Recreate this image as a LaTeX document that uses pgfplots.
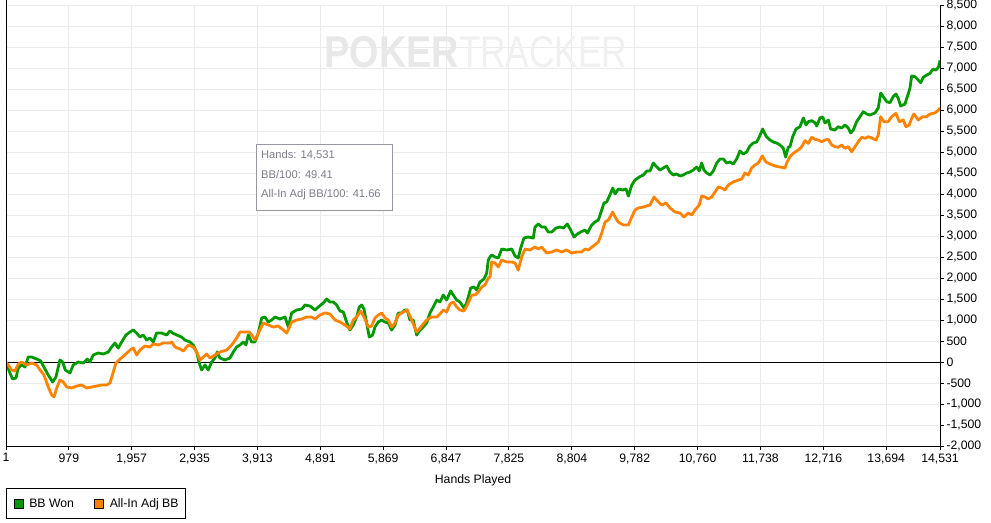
\documentclass[border=0pt]{standalone}
\usepackage{pgfplots}
\pgfplotsset{compat=1.18}
\usepackage{graphicx}
\usepackage{fontspec}
\setmainfont{Liberation Sans}
\definecolor{bbgreen}{RGB}{0,153,0}
\definecolor{bborange}{RGB}{255,130,0}
\definecolor{gridgray}{RGB}{235,235,235}
\definecolor{tipgray}{RGB}{125,125,138}
\begin{document}
\begin{tikzpicture}
\begin{axis}[name=ax, scale only axis, width=934bp, height=441bp,
  xmin=1, xmax=14531, ymin=-2000, ymax=8500,
  scaled x ticks=false, scaled y ticks=false,
  axis x line*=bottom, axis y line*=right,
  axis line style={black, line width=1bp},
  tick style={black, line width=1bp},
  tick align=outside, major tick length=4bp,
  grid=major, major grid style={gridgray, line width=1bp},
  xtick={1,979,1957,2935,3913,4891,5869,6847,7825,8804,9782,10760,11738,12716,13694,14531},
  xticklabels={1,979,{1,957},{2,935},{3,913},{4,891},{5,869},{6,847},{7,825},{8,804},{9,782},{10,760},{11,738},{12,716},{13,694},{14,531}},
  ytick={-2000,-1500,...,8500},
  yticklabels={{-2,000},{-1,500},{-1,000},-500,0,500,{1,000},{1,500},{2,000},{2,500},{3,000},{3,500},{4,000},{4,500},{5,000},{5,500},{6,000},{6,500},{7,000},{7,500},{8,000},{8,500}},
  tick label style={font=\fontsize{12.3}{14}\selectfont},
  yticklabel style={xshift=-1bp},
  xticklabel style={yshift=0bp},
  xlabel={Hands Played},
  xlabel style={font=\fontsize{12.3}{14}\selectfont, yshift=-4bp},
  legend columns=2,
  legend style={at={(0,0)}, anchor=north west, yshift=-42bp, draw=black, line width=1bp,
    font=\fontsize{12.3}{14}\selectfont, inner xsep=5bp, inner ysep=8bp,
    /tikz/every even column/.append style={column sep=16bp}},
  legend cell align=left,
  legend image code/.code={\draw[line width=0.8bp, draw=black, fill] (0bp,-4.5bp) rectangle (9bp,4.5bp); \path (-1bp,0) (12bp,0);},
]
\node[text=gray!18, inner sep=0pt] at (rel axis cs:0.503,0.893) {\fontsize{44.7}{46}\selectfont\scalebox{0.85}[1]{\bfseries POKER}\scalebox{0.79}[1]{\color{gray!12}TRACKER}};
\draw[black, line width=1bp] (axis cs:1,0) -- (axis cs:14531,0);
\addplot[color=bbgreen, line width=2.8bp, line join=round] coordinates {
(1,0) (62,-262) (104,-405) (156,-381) (191,-143) (244,-71) (296,-119) (347,119) (400,119) (478,71) (540,24) (591,-119) (658,-310) (727,-476) (778,-357) (840,48) (882,0) (923,-190) (996,-262) (1047,-71) (1125,0) (1203,-24) (1265,71) (1307,0) (1358,167) (1436,214) (1514,190) (1592,238) (1644,357) (1696,452) (1747,333) (1800,476) (1867,643) (1929,714) (1980,762) (2033,690) (2085,595) (2136,643) (2189,524) (2240,571) (2292,476) (2344,690) (2422,690) (2500,643) (2551,740)
(2593,690) (2656,643) (2733,595) (2785,524) (2863,476) (2914,405) (2967,238) (3007,-24) (3044,-190) (3096,-71) (3147,-190) (3200,0) (3251,95) (3287,238) (3329,95) (3407,48) (3485,95) (3537,238) (3589,357) (3641,405) (3692,476) (3734,405) (3770,643) (3823,476) (3874,476) (3926,690) (3979,1048) (4030,1071) (4081,952) (4134,1000) (4185,1071) (4263,1024) (4341,1071) (4393,833) (4445,1167) (4523,1238) (4601,1262) (4653,1357) (4730,1333) (4808,1238) (4860,1310) (4937,1405) (4990,1500) (5041,1429)
(5093,1429) (5145,1357) (5197,1214) (5248,1190) (5300,952) (5352,762) (5403,881) (5456,1071) (5497,1310) (5534,1357) (5570,1262) (5612,929) (5652,595) (5705,643) (5741,833) (5792,952) (5845,1000) (5896,952) (5948,929) (6000,762) (6052,881) (6103,1167) (6156,1167) (6207,1238) (6243,1238) (6285,1000) (6336,1000) (6389,643) (6441,762) (6492,833) (6545,929) (6597,1167) (6648,1310) (6701,1476) (6752,1429) (6803,1595) (6856,1476) (6918,1690) (6959,1595) (7012,1476) (7063,1429) (7125,1286) (7167,1405) (7230,1762) (7281,1786) (7323,1714) (7374,1905) (7437,1976) (7479,2119) (7504,2429) (7530,2500)
(7557,2548) (7608,2500) (7660,2476) (7712,2690) (7790,2667) (7868,2690) (7919,2524) (7970,2476) (8008,2714) (8059,2952) (8126,2976) (8204,2952) (8230,3214) (8282,3286) (8334,3214) (8386,3214) (8437,3095) (8490,3095) (8557,3190) (8619,3214) (8671,3190) (8733,3286) (8786,3143) (8837,2976) (8889,3048) (8942,3095) (9009,3143) (9045,3071) (9113,3262) (9164,3333) (9216,3381) (9253,3548) (9304,3786) (9346,3810) (9409,4024) (9440,4143) (9476,4000) (9527,4119) (9596,4095) (9647,4119) (9683,3952) (9736,4214) (9787,4333) (9854,4405) (9916,4452) (9969,4548) (10020,4548)
(10071,4738) (10124,4643) (10175,4571) (10226,4619) (10279,4667) (10330,4524) (10382,4452) (10434,4476) (10486,4429) (10537,4452) (10590,4500) (10641,4524) (10692,4571) (10745,4643) (10786,4548) (10823,4738) (10859,4571) (10901,4500) (10953,4452) (11004,4548) (11057,4738) (11108,4833) (11160,4833) (11212,4738) (11263,4762) (11315,4714) (11367,4833) (11419,5024) (11470,4952) (11523,5000) (11574,5143) (11626,5214) (11679,5238) (11719,5357) (11772,5548) (11823,5381) (11885,5286) (11937,5238) (11990,5214) (12041,5167) (12092,5095) (12130,4881) (12171,5119)
(12197,5126) (12239,5364) (12290,5548) (12353,5602) (12404,5810) (12446,5643) (12482,5722) (12535,5745) (12586,5698) (12613,5619) (12664,5810) (12706,5833) (12742,5690) (12793,5762) (12830,5548) (12897,5524) (12948,5602) (13001,5571) (13052,5643) (13104,5571) (13141,5452) (13182,5524) (13234,5722) (13286,5841) (13337,5960) (13390,5905) (13441,5881) (13519,5929) (13570,6048) (13608,6405) (13648,6317) (13701,6198) (13752,6174) (13803,6317) (13846,6381) (13881,6279) (13919,6095) (13986,6143) (14022,6317) (14063,6517) (14090,6810) (14141,6793) (14193,6714) (14230,6650) (14271,6779) (14324,6833) (14376,6874) (14418,6969) (14469,6952) (14505,7017) (14531,7180)
};
\addlegendentry{BB Won}
\addplot[color=bborange, line width=2.8bp, line join=round] coordinates {
(1,0) (90,-190) (141,-214) (192,-48) (245,0) (323,-71) (401,-24) (479,-71) (530,-190) (592,-310) (659,-595) (712,-786) (748,-833) (790,-619) (841,-429) (892,-476) (945,-595) (1023,-619) (1101,-571) (1179,-548) (1256,-619) (1334,-595) (1412,-571) (1490,-548) (1568,-548) (1619,-500) (1670,-238) (1712,-24) (1775,71) (1852,167) (1930,286) (1981,333) (2034,167) (2086,286) (2163,381) (2241,357) (2292,429) (2370,405) (2448,452) (2552,452)
(2579,476) (2630,357) (2708,310) (2759,262) (2837,405) (2915,357) (2968,238) (3019,48) (3071,119) (3123,190) (3175,95) (3253,167) (3330,238) (3434,286) (3512,405) (3590,571) (3641,714) (3719,714) (3786,714) (3823,643) (3875,524) (3926,690) (4004,929) (4082,881) (4160,833) (4237,857) (4315,762) (4368,690) (4446,952) (4523,1000) (4601,1024) (4679,1071) (4757,1071) (4808,1024) (4886,1119) (4964,1170) (5041,1140)
(5119,1000) (5197,952) (5275,881) (5352,786) (5404,1000) (5456,1071) (5518,1214) (5570,1071) (5637,833) (5690,857) (5741,1048) (5793,1119) (5845,1167) (5897,1048) (5948,1000) (6001,833) (6052,929) (6104,1119) (6182,1190) (6244,1238) (6312,1000) (6389,714) (6467,857) (6545,1000) (6623,1071) (6701,1071) (6753,1143) (6804,1238) (6857,1190) (6908,1381) (6960,1429) (7012,1310) (7064,1238) (7126,1214) (7193,1405) (7246,1595) (7297,1595) (7349,1667) (7402,1786) (7453,1833) (7504,2000) (7531,2024)
(7557,2381) (7608,2357) (7660,2262) (7712,2429) (7790,2381) (7868,2381) (7919,2357) (7970,2190) (8023,2500) (8075,2690) (8153,2667) (8230,2738) (8282,2690) (8334,2738) (8412,2595) (8490,2619) (8568,2667) (8645,2619) (8723,2667) (8801,2595) (8879,2619) (8957,2619) (9009,2690) (9060,2667) (9138,2762) (9216,2857) (9269,3071) (9320,3333) (9372,3381) (9440,3571) (9476,3452) (9527,3333) (9605,3262) (9683,3262) (9736,3452) (9787,3619) (9839,3667) (9916,3690) (10020,3738)
(10083,3929) (10150,3810) (10203,3738) (10270,3786) (10330,3667) (10410,3571) (10486,3548) (10548,3452) (10615,3548) (10668,3500) (10720,3619) (10786,3738) (10823,3952) (10875,3929) (10927,3881) (10979,3929) (11031,4048) (11082,4167) (11135,4143) (11186,4095) (11237,4214) (11315,4286) (11393,4333) (11446,4357) (11497,4500) (11548,4452) (11601,4619) (11652,4690) (11704,4738) (11766,4905) (11823,4762) (11885,4714) (11963,4667) (12041,4643) (12119,4619) (12146,4738)
(12197,4888) (12248,4969) (12326,5048) (12379,5126) (12430,5269) (12482,5207) (12535,5350) (12586,5302) (12638,5286) (12691,5245) (12742,5286) (12793,5302) (12846,5167) (12897,5126) (12948,5112) (13001,5167) (13052,5088) (13104,5126) (13157,5007) (13208,5126) (13260,5245) (13312,5350) (13364,5326) (13415,5364) (13484,5326) (13535,5286) (13571,5405) (13608,5841) (13659,5722) (13726,5722) (13779,5841) (13846,5922) (13897,5722) (13959,5762) (14001,5602) (14053,5643) (14090,5802) (14126,5905) (14193,5762) (14261,5841) (14324,5841) (14376,5905) (14438,5922) (14480,5960) (14521,6017) (14531,6054)
};
\addlegendentry{All-In Adj BB}
\draw[tipgray!80, line width=1bp, fill=white] (rel axis cs:0.2687,0.5329) rectangle (rel axis cs:0.4133,0.6848);
\node[anchor=west, text=tipgray, inner sep=0pt, font=\fontsize{11.2}{13}\selectfont] at (rel axis cs:0.273,0.660) {Hands: 14,531};
\node[anchor=west, text=tipgray, inner sep=0pt, font=\fontsize{11.2}{13}\selectfont] at (rel axis cs:0.273,0.615) {BB/100: 49.41};
\node[anchor=west, text=tipgray, inner sep=0pt, font=\fontsize{11.2}{13}\selectfont] at (rel axis cs:0.273,0.569) {All-In Adj BB/100: 41.66};
\end{axis}
\draw[black, line width=1bp] (ax.south west) -- ([yshift=5bp]ax.north west);
\pgfresetboundingbox
\path[use as bounding box] ([xshift=-6bp,yshift=-77bp]ax.south west) rectangle ++(991bp,523bp);
\end{tikzpicture}
\end{document}
